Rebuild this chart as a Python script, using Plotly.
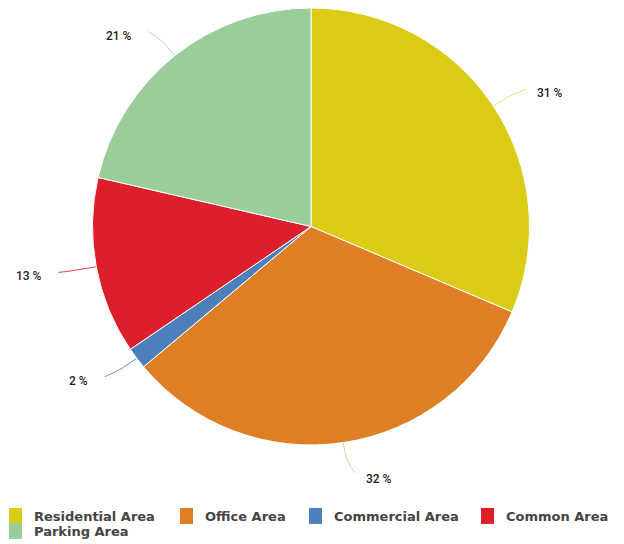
import math

import plotly.graph_objects as go

# ─── Data ────────────────────────────────────────────────────────────────────

categories = ["Residential Area", "Office Area", "Commercial Area", "Common Area", "Parking Area"]
shares     = [31.4, 32.5, 1.6, 13.1, 21.4]
colors     = ["#dccb14", "#df7f25", "#4d7fbd", "#dc1f2a", "#99cd9a"]
line_cols  = ["rgba(220,203,20,0.6)", "rgba(223,127,37,0.45)", "rgba(77,127,189,0.85)",
              "rgba(220,31,42,0.85)", "rgba(153,205,154,0.75)"]

# ─── Layout constants ────────────────────────────────────────────────────────

W, H = 624, 544            # page body shifts the figure 8px right/down
RADIUS = 218.5             # pie radius in px
M_L, M_R, M_T, M_B = 0, 18, 0, 54
plot_w = W - M_L - M_R
plot_h = H - M_T - M_B
extra_b = plot_h - 2 * RADIUS          # room under the pie for the bottom label
half_w = (plot_w / 2) / RADIUS

# legend entries: (text start x px, row centre y px) in figure pixels
legend_pos = [(26, 508), (197, 508), (326, 508), (498, 508), (26, 523)]
INDENT = -15

fig = go.Figure()
fig.add_trace(go.Pie(
    labels=categories,
    values=shares,
    marker=dict(colors=colors, line=dict(color="white", width=1)),
    sort=False,
    direction="clockwise",
    rotation=0,
    textinfo="none",
    hoverinfo="label+percent",
    showlegend=False,
    domain=dict(x=[0, 1], y=[extra_b / plot_h, 1]),
))

total = sum(shares)
cum = 0
annotations = []
for cat, v, lc in zip(categories, shares, line_cols):
    mid = (cum + v / 2) / total * 2 * math.pi
    cum += v
    sx, sy = math.sin(mid), math.cos(mid)
    side = -1 if sx < 0 else 1
    p0 = (sx * 1.0, sy * 1.0)
    p1 = (sx * 1.10, sy * 1.10)
    p2 = (sx * 1.14 + side * 0.035, sy * 1.14)
    xs, ys = [], []
    for i in range(11):
        t = i / 10
        xs.append((1 - t) ** 2 * p0[0] + 2 * (1 - t) * t * p1[0] + t * t * p2[0])
        ys.append((1 - t) ** 2 * p0[1] + 2 * (1 - t) * t * p1[1] + t * t * p2[1])
    fig.add_trace(go.Scatter(
        x=xs, y=ys, mode="lines", line=dict(color=lc, width=1),
        hoverinfo="skip", showlegend=False,
    ))
    annotations.append(dict(
        x=p2[0] + (0.067 * side if side < 0 else 0.04),
        y=p2[1] - (0.03 if abs(sx) < 0.3 else 0.018),
        xref="x", yref="y",
        text=f"{round(v)} %",
        showarrow=False,
        xanchor="right" if side < 0 else "left",
        yanchor="middle",
        font=dict(family="Roboto, sans-serif", size=12, color="#222", weight=500),
    ))

# legend entries, one small legend each so they sit where the reference has them
legends = {}
for i, (cat, col, (lx, ly)) in enumerate(zip(categories, colors, legend_pos)):
    key = "legend" if i == 0 else f"legend{i + 1}"
    fig.add_trace(go.Scatter(
        x=[None], y=[None], mode="markers", name=cat,
        marker=dict(symbol="square", size=16, color=col),
        legend=key, showlegend=True, hoverinfo="skip",
    ))
    legends[key] = dict(
        xref="paper", yref="paper",
        x=(lx - 40 - INDENT) / plot_w, xanchor="left",
        y=(plot_h - ly) / plot_h, yanchor="middle",
        orientation="h", indentation=INDENT,
        bgcolor="rgba(0,0,0,0)", borderwidth=0,
        itemsizing="trace", itemclick=False, itemdoubleclick=False,
        font=dict(family="DejaVu Sans, sans-serif", size=13, color="#444", weight="bold"),
    )

fig.update_layout(
    width=W, height=H,
    paper_bgcolor="white",
    plot_bgcolor="rgba(0,0,0,0)",
    margin=dict(l=M_L, r=M_R, t=M_T, b=M_B),
    xaxis=dict(range=[-half_w, half_w], visible=False, fixedrange=True),
    yaxis=dict(range=[-1 - extra_b / RADIUS, 1], visible=False, fixedrange=True),
    annotations=annotations,
    showlegend=True,
    **legends,
)

fig.write_html("out.html")
